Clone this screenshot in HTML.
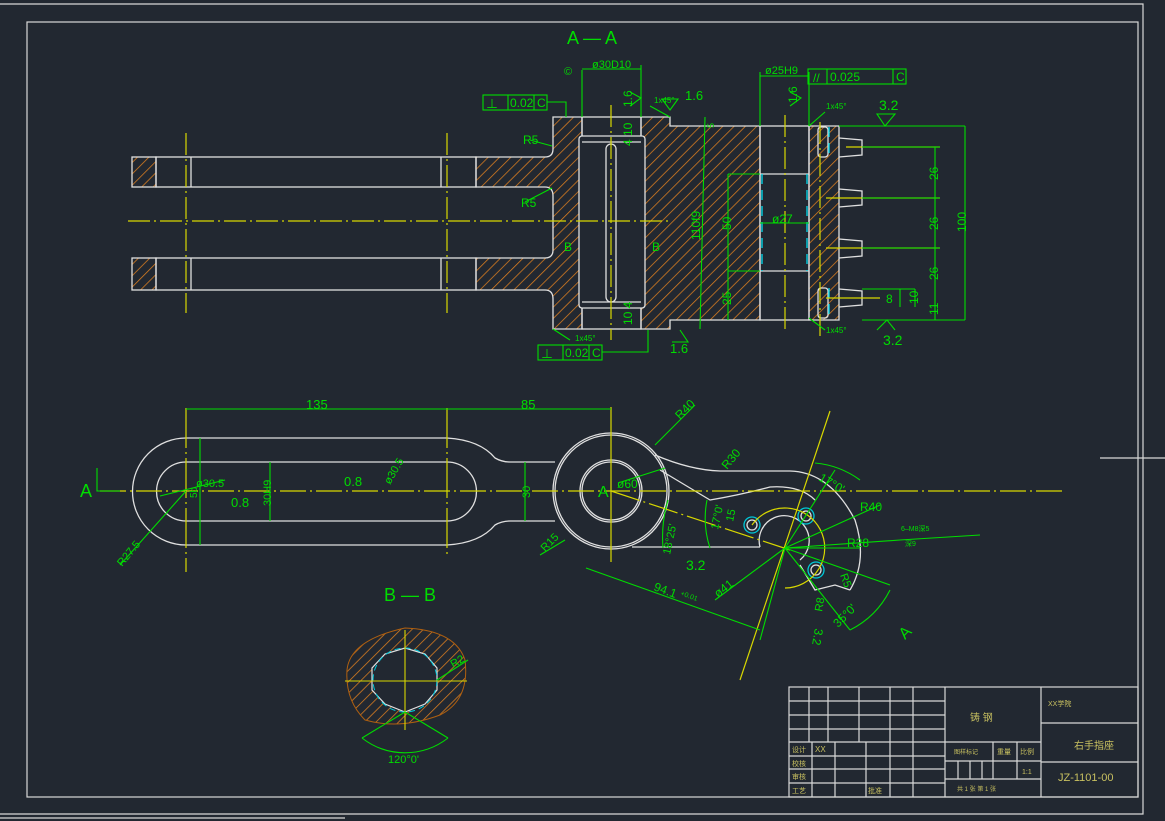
<!DOCTYPE html>
<html><head><meta charset="utf-8"><style>
html,body{margin:0;padding:0;background:#222831;}
svg{display:block}
text{font-family:"Liberation Sans","Noto Sans CJK SC",sans-serif;}
</style></head><body>
<svg width="1165" height="821" viewBox="0 0 1165 821" xmlns="http://www.w3.org/2000/svg">
<defs>
<pattern id="h" patternUnits="userSpaceOnUse" width="8" height="8" patternTransform="rotate(45)">
<rect width="8" height="8" fill="none"/><line x1="0" y1="0" x2="0" y2="8" stroke="#e0801f" stroke-width="1.5"/>
</pattern>
</defs>
<rect width="1165" height="821" fill="#222831"/>
<g fill="none" stroke="#d8d8d8" stroke-width="1.2">
<path d="M0 4H1143V814H0"/>
<rect x="27" y="22" width="1111" height="775"/>
<line x1="1100" y1="458" x2="1165" y2="458"/>
<line x1="0" y1="818" x2="345" y2="818"/>
</g>

<text x="567" y="44" fill="#00dd00" font-size="18">A — A</text>
<g stroke="#e0e0e0" stroke-width="1.3">
<rect x="132" y="157" width="24" height="30" fill="url(#h)"/>
<rect x="132" y="258" width="24" height="32" fill="url(#h)"/>
<rect x="156" y="157" width="320" height="30" fill="none"/>
<rect x="156" y="258" width="320" height="32" fill="none"/>
<line x1="191" y1="157" x2="191" y2="187"/><line x1="441" y1="157" x2="441" y2="187"/>
<line x1="191" y1="258" x2="191" y2="290"/><line x1="441" y1="258" x2="441" y2="290"/>
<path d="M476 157H545Q553 157 553 149V117H582V329H553V299Q553 290 545 290H476V258H545Q553 258 553 250V196Q553 187 545 187H476Z" fill="url(#h)"/>
<path d="M641 117H670V126H760V320H670V329H641Z" fill="url(#h)"/>
<path d="M809 126H839V320H809Z" fill="url(#h)"/>
<rect x="582" y="117" width="59" height="212" fill="none"/>
<rect x="579" y="136" width="66" height="172" rx="3" fill="#222831"/>
<rect x="606" y="144" width="10" height="158" rx="5" fill="none"/>
<line x1="582" y1="142" x2="641" y2="142"/><line x1="582" y1="302" x2="641" y2="302"/>
<rect x="760" y="126" width="49" height="194" fill="none"/>
<line x1="760" y1="174" x2="809" y2="174"/><line x1="760" y1="271" x2="809" y2="271"/>
<path d="M839 138L862 140V155L839 157M839 189L862 191V205L839 207M839 239L862 241V256L839 258M839 289L862 291V305L839 307" fill="none"/>
<rect x="818" y="127" width="10" height="30" rx="3" fill="none"/>
<rect x="818" y="288" width="10" height="30" rx="3" fill="none"/>
</g>
<g stroke="#00dcee" stroke-width="1.3" stroke-dasharray="10 6">
<line x1="762" y1="174" x2="762" y2="271"/><line x1="807" y1="174" x2="807" y2="271"/>
<line x1="829" y1="127" x2="829" y2="157"/><line x1="829" y1="288" x2="829" y2="318"/>
</g>
<g stroke="#d8d800" stroke-width="1.2" stroke-dasharray="22 4 2 4">
<line x1="128" y1="221" x2="670" y2="221"/>
<line x1="186" y1="133" x2="186" y2="313"/><line x1="447" y1="133" x2="447" y2="313"/>
<line x1="611" y1="105" x2="611" y2="340"/><line x1="785" y1="115" x2="785" y2="332"/>
<line x1="820" y1="122" x2="820" y2="338"/>
</g>
<g stroke="#d8d800" stroke-width="1.2">
<line x1="846" y1="147" x2="940" y2="147"/><line x1="826" y1="198" x2="940" y2="198"/>
<line x1="826" y1="248" x2="940" y2="248"/><line x1="826" y1="298" x2="880" y2="298"/>
</g>
<g stroke="#00dd00" stroke-width="1.1" fill="none">
<rect x="483" y="95" width="64" height="15"/><line x1="508" y1="95" x2="508" y2="110"/><line x1="534" y1="95" x2="534" y2="110"/>
<path d="M547 102H566V117"/>
<rect x="538" y="345" width="64" height="15"/><line x1="563" y1="345" x2="563" y2="360"/><line x1="589" y1="345" x2="589" y2="360"/>
<path d="M602 352H648V330"/>
<rect x="808" y="69" width="98" height="15"/><line x1="827" y1="69" x2="827" y2="84"/><line x1="893" y1="69" x2="893" y2="84"/>
<path d="M808 76H760"/>
<line x1="582" y1="70" x2="582" y2="117"/><line x1="641" y1="65" x2="641" y2="117"/><line x1="582" y1="69" x2="641" y2="69"/>
<line x1="760" y1="72" x2="760" y2="126"/><line x1="809" y1="72" x2="809" y2="126"/><line x1="760" y1="76" x2="809" y2="76"/>
<line x1="705" y1="117" y2="329" x2="700"/>
<line x1="728" y1="174" x2="728" y2="320"/><line x1="728" y1="174" x2="760" y2="174"/><line x1="728" y1="271" x2="760" y2="271"/>
<line x1="760" y1="223" x2="809" y2="223"/>
<path d="M839 126H965M862 147H940M862 198H940M862 248H940M862 289H915M862 320H965"/>
<line x1="965" y1="126" x2="965" y2="320"/><line x1="935" y1="147" x2="935" y2="320"/>
<line x1="915" y1="289" x2="915" y2="307"/><line x1="900" y1="289" x2="900" y2="307"/>
<path d="M885 126L895 114L877 114Z M877 330L887 320L895 330"/>
<path d="M670 110L678 99L662 99Z M680 330L688 342L672 342"/>
<path d="M630 92L641 98L630 106"/><path d="M790 92L801 98L790 106"/>
<path d="M530 140L552 146M525 202L552 188"/>
<path d="M650 106L670 117M825 112L809 126M825 330L809 318M570 340L553 329"/>
</g>
<g fill="#00dd00" font-size="12">
<text x="486" y="108">⊥</text><text x="510" y="107">0.02</text><text x="537" y="107">C</text>
<text x="541" y="358">⊥</text><text x="565" y="357">0.02</text><text x="592" y="357">C</text>
<text x="813" y="82">//</text><text x="830" y="81">0.025</text><text x="896" y="81">C</text>
<text x="564" y="75" font-size="11">©</text>
<text x="592" y="68" font-size="11">ø30D10</text>
<text x="765" y="74" font-size="11">ø25H9</text>
<text x="685" y="100" font-size="13">1.6</text><text x="670" y="353" font-size="13">1.6</text>
<text x="879" y="110" font-size="14">3.2</text><text x="883" y="345" font-size="14">3.2</text>
<text x="523" y="144">R5</text><text x="521" y="207">R5</text>
<text x="564" y="251">B</text><text x="652" y="251">B</text>
<text x="772" y="223">ø27</text>
<text x="654" y="103" font-size="8">1x45°</text><text x="826" y="109" font-size="8">1x45°</text>
<text x="826" y="333" font-size="8">1x45°</text><text x="575" y="341" font-size="8">1x45°</text>
<g font-size="12">
<text transform="translate(632,107) rotate(-90)">1.6</text>
<text transform="translate(797,103) rotate(-90)">1.6</text>
<text transform="translate(700,240) rotate(-90)">110f9</text>
<text transform="translate(731,230) rotate(-90)">50</text>
<text transform="translate(731,305) rotate(-90)">25</text>
<text transform="translate(632,146) rotate(-90)">4 10</text>
<text transform="translate(632,325) rotate(-90)">10 4</text>
<text transform="translate(714,128) rotate(-90)" font-size="9">5</text>
<text transform="translate(938,180) rotate(-90)">26</text>
<text transform="translate(938,230) rotate(-90)">26</text>
<text transform="translate(938,280) rotate(-90)">26</text>
<text transform="translate(966,232) rotate(-90)">100</text>
<text transform="translate(918,304) rotate(-90)">10</text>
<text transform="translate(938,315) rotate(-90)">11</text>
<text x="886" y="303">8</text>
</g>
</g>

<g stroke="#e0e0e0" stroke-width="1.3" fill="none">
<path d="M186 438H447Q480 440 495 458Q502 462 510 462H555"/>
<path d="M186 545H447Q480 543 495 525Q502 521 510 521H555"/>
<path d="M186 438A53.5 53.5 0 0 0 186 545"/>
<path d="M186 462H447A29.5 29.5 0 0 1 447 521H186A29.5 29.5 0 0 1 186 462Z"/>
<circle cx="611" cy="491" r="58"/><circle cx="611" cy="491" r="56"/>
<circle cx="611" cy="491" r="31"/><circle cx="611" cy="491" r="29"/>
<path d="M655 455Q690 470 720 471H790Q830 472 855 520Q868 560 850 590"/>
<path d="M660 470L710 500Q740 495 770 487Q800 485 815 500"/>
<path d="M632 547H760"/>
<path d="M760 547A25 25 0 1 1 800 560"/>
<path d="M800 565L815 590L835 585L850 590"/>
<circle cx="752" cy="525" r="8" stroke="#00c8d8"/><circle cx="752" cy="525" r="5"/>
<circle cx="806" cy="516" r="8" stroke="#00c8d8"/><circle cx="806" cy="516" r="5"/>
<circle cx="816" cy="570" r="8" stroke="#00c8d8"/><circle cx="816" cy="570" r="5"/>
</g>
<g stroke="#d8d800" stroke-width="1.2" fill="none">
<line x1="100" y1="491" x2="1065" y2="491" stroke-dasharray="26 4 2 4"/>
<line x1="186" y1="408" x2="186" y2="572" stroke-dasharray="40 4 2 4"/>
<line x1="447" y1="408" x2="447" y2="556" stroke-dasharray="40 4 2 4"/>
<line x1="611" y1="407" x2="611" y2="562"/>
<line x1="830" y1="411" x2="740" y2="680"/>
<line x1="611" y1="491" x2="790" y2="550" stroke-dasharray="30 4 2 4"/>
<path d="M752 525A40 40 0 1 1 785 588"/>
</g>
<g stroke="#00dd00" stroke-width="1.1" fill="none">
<line x1="186" y1="409" x2="611" y2="409"/>
<line x1="200" y1="438" x2="200" y2="545"/><line x1="270" y1="462" x2="270" y2="521"/>
<line x1="525" y1="462" x2="525" y2="521"/>
<line x1="120" y1="565" x2="186" y2="491"/><line x1="160" y1="496" x2="225" y2="480"/>
<path d="M97 468V491H120"/>
<line x1="655" y1="445" x2="695" y2="405"/>
<line x1="618" y1="483" x2="665" y2="468"/>
<line x1="586" y1="568" x2="760" y2="630"/>
<line x1="785" y1="548" x2="860" y2="548"/><line x1="785" y1="548" x2="880" y2="505"/>
<line x1="785" y1="548" x2="900" y2="540"/><line x1="785" y1="548" x2="715" y2="600"/>
<line x1="785" y1="548" x2="760" y2="640"/><line x1="785" y1="548" x2="835" y2="470"/>
<line x1="785" y1="548" x2="890" y2="585"/>
<path d="M815 463A90 90 0 0 1 860 480"/>
<path d="M850 630A90 90 0 0 0 890 590"/>
<line x1="900" y1="540" x2="980" y2="535"/>
<path d="M707 500A95 95 0 0 0 710 548"/><path d="M668 500A130 130 0 0 0 663 548"/>
<path d="M785 548L850 630"/>
<path d="M565 540L540 555"/>
</g>
<g fill="#00dd00" font-size="13">
<text x="80" y="497" font-size="18">A</text>
<text x="598" y="497" font-size="16">A</text>
<text x="306" y="409">135</text><text x="521" y="409">85</text>
<text x="231" y="507">0.8</text><text x="344" y="486">0.8</text>
<text x="196" y="487" font-size="11">ø30.5</text>
<text transform="translate(390,485) rotate(-60)" font-size="11">ø30.5</text>
<text transform="translate(271,506) rotate(-90)" font-size="11">30H9</text>
<text transform="translate(530,498) rotate(-90)" font-size="11">30</text>
<text transform="translate(197,498) rotate(-90)" font-size="10">5b</text>
<text transform="translate(122,567) rotate(-50)" font-size="11">R27.5</text>
<text transform="translate(545,552) rotate(-45)" font-size="11">R15</text>
<text transform="translate(680,420) rotate(-45)" font-size="12">R40</text>
<text transform="translate(727,470) rotate(-50)" font-size="12">R30</text>
<text x="617" y="488" font-size="12">ø60</text>
<text transform="translate(718,530) rotate(-78)" font-size="11">17°0'</text>
<text transform="translate(733,522) rotate(-78)" font-size="11">15</text>
<text transform="translate(670,555) rotate(-78)" font-size="11">18°25'</text>
<text x="686" y="570" font-size="14">3.2</text>
<text transform="translate(653,590) rotate(20)" font-size="12">94.1</text>
<text transform="translate(680,595) rotate(20)" font-size="7">+0.01</text>
<text transform="translate(718,598) rotate(-38)" font-size="12">ø41</text>
<text transform="translate(818,480) rotate(30)" font-size="12">17°0'</text>
<text x="860" y="511" font-size="12">R40</text>
<text x="847" y="547" font-size="12">R28</text>
<text x="901" y="531" font-size="7">6–M8深5</text>
<text x="905" y="546" font-size="7">深9</text>
<text transform="translate(840,575) rotate(70)" font-size="11">R5</text>
<text transform="translate(822,612) rotate(-80)" font-size="11">R8</text>
<text transform="translate(815,628) rotate(100)" font-size="12">3.2</text>
<text transform="translate(838,628) rotate(-45)" font-size="12">35°0'</text>
<text transform="translate(905,640) rotate(-45)" font-size="16">A</text>
</g>

<text x="384" y="601" fill="#00dd00" font-size="18">B — B</text>
<path d="M405 628Q455 630 465 660Q470 700 440 715Q400 730 365 720Q345 700 347 670Q350 640 405 628Z" fill="url(#h)" stroke="#b06010" stroke-width="1"/>
<polygon points="405,648 425,654 437,668 437,690 425,704 405,712 385,704 372,690 372,668 385,654" fill="#222831" stroke="#e0e0e0" stroke-width="1.2"/>
<circle cx="405" cy="680" r="32" fill="none" stroke="#00c8d8" stroke-dasharray="6 4"/>
<g stroke="#d8d800" stroke-width="1.1"><line x1="345" y1="681" x2="467" y2="681"/><line x1="405" y1="630" x2="405" y2="730"/></g>
<g stroke="#00dd00" stroke-width="1.1" fill="none">
<path d="M362 738A70 70 0 0 0 448 738"/><line x1="405" y1="712" x2="362" y2="738"/><line x1="405" y1="712" x2="448" y2="738"/>
<line x1="437" y1="680" x2="468" y2="660"/>
</g>
<text x="388" y="763" fill="#00dd00" font-size="11">120°0'</text>
<text transform="translate(453,668) rotate(-30)" fill="#00dd00" font-size="11">R2</text>

<g stroke="#d8d8d8" stroke-width="1.2" fill="none">
<rect x="789" y="687" width="349" height="110"/>
<line x1="945" y1="687" x2="945" y2="797"/><line x1="1041" y1="687" x2="1041" y2="797"/>
<path d="M789 701H945M789 715H945M789 729H945M789 742H1041M789 756H945M789 769H945M789 783H945"/>
<path d="M809 687V742M828 687V742M859 687V742M890 687V742M913 687V742"/>
<path d="M812 742V797M835 742V797M866 742V797M890 742V797M913 742V797"/>
<path d="M945 761H1041M945 779H1041M993 742V779M1017 742V779M958 761V779M970 761V779M982 761V779"/>
<path d="M1041 723H1138M1041 762H1138"/>
</g>
<g fill="#c8c060" font-size="9">
<text x="970" y="721" font-size="10">铸 钢</text>
<text x="1048" y="706" font-size="7">XX学院</text>
<text x="1074" y="749" font-size="10">右手指座</text>
<text x="1058" y="781" font-size="11">JZ-1101-00</text>
<text x="792" y="752" font-size="7">设计</text><text x="815" y="752" font-size="8">XX</text>
<text x="792" y="766" font-size="7">校核</text><text x="792" y="779" font-size="7">审核</text><text x="792" y="793" font-size="7">工艺</text>
<text x="868" y="793" font-size="7">批准</text>
<text x="954" y="754" font-size="6">图样标记</text><text x="997" y="754" font-size="7">重量</text><text x="1020" y="754" font-size="7">比例</text>
<text x="1022" y="774" font-size="7">1:1</text>
<text x="957" y="791" font-size="6">共 1 张 第 1 张</text>
</g>
</svg>
</body></html>
